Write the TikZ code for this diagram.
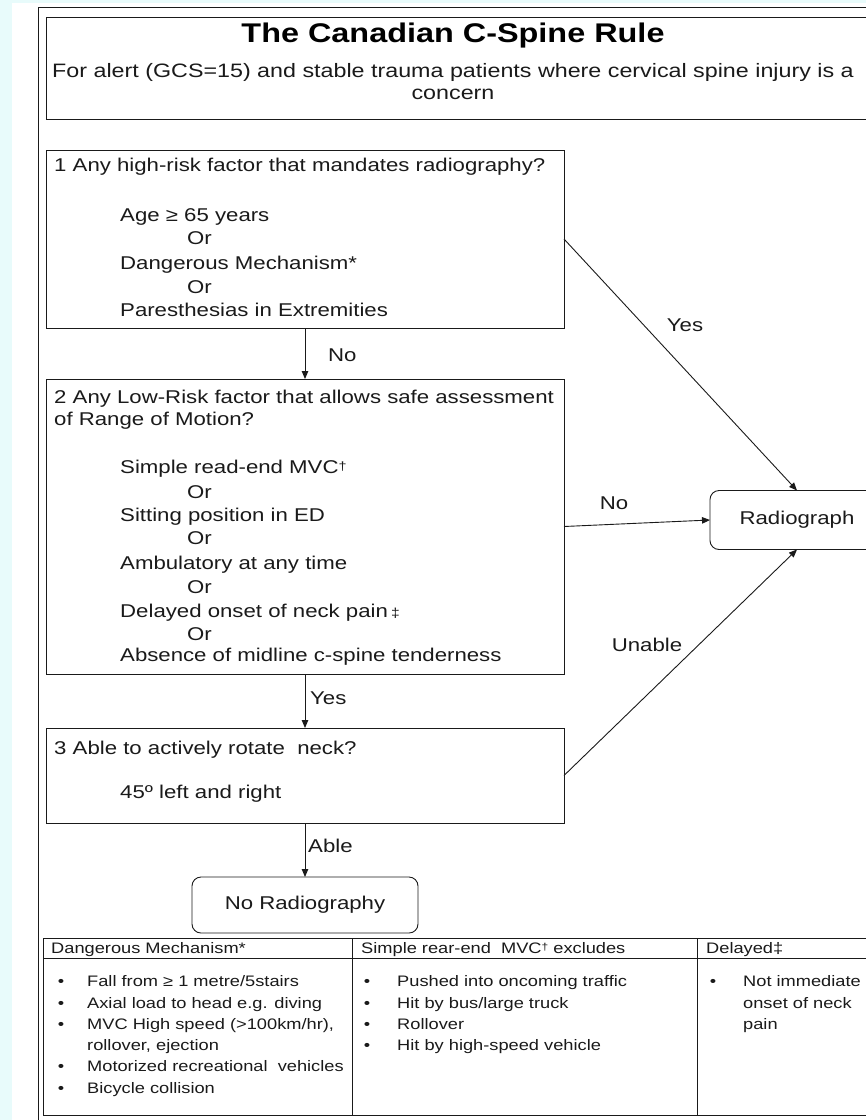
\documentclass[tikz,border=0pt]{standalone}
\usepackage{fontspec}
\setmainfont{Liberation Sans}[FakeStretch=1.2]
\usetikzlibrary{arrows.meta}
\definecolor{bgcyan}{HTML}{E8FBFB}
\definecolor{ink}{HTML}{1A1A1A}
\begin{document}
\begin{tikzpicture}[x=1pt,y=-1pt,
  frame/.style={draw=ink, line width=1pt},
  box/.style={draw=ink, line width=0.9pt, anchor=north west, inner sep=0pt, outer sep=0pt},
  rbox/.style={draw=ink, line width=0.9pt, rounded corners=9pt, inner sep=0pt, outer sep=0pt, font=\fontsize{18.5}{22}\selectfont, text=ink},
  txt/.style={anchor=base west, inner sep=0pt, font=\fontsize{18.5}{22}\selectfont, text=ink},
  lbl/.style={anchor=center, inner sep=0pt, font=\fontsize{18.5}{22}\selectfont, text=ink},
  ttxt/.style={anchor=base west, inner sep=0pt, font=\fontsize{15.2}{20}\selectfont, text=ink},
  bul/.style={anchor=base, inner sep=0pt, font=\fontsize{15.2}{20}\selectfont, text=ink},
  arr/.style={draw=ink, line width=0.9pt, -{Triangle[length=8pt,width=6.5pt]}},
]
\useasboundingbox (0,0) rectangle (866,1120);
\fill[bgcyan] (0,0) rectangle (866,1120);
\fill[white] (12,3) rectangle (866,1120);
% outer frame and title box
\draw[frame] (38,7) rectangle (900,1130);
\draw[frame] (46,17) rectangle (900,119);
\node[anchor=base, inner sep=0pt, font=\bfseries\fontsize{27}{30}\selectfont, text=black] (title) at (453,42) {The Canadian C-Spine Rule};
\node[anchor=base, inner sep=0pt, font=\fontsize{19.4}{22}\selectfont, text=ink] (sub1) at (453,77) {For alert (GCS=15) and stable trauma patients where cervical spine injury is a};
\node[anchor=base, inner sep=0pt, font=\fontsize{19.4}{22}\selectfont, text=ink] (sub2) at (453,99) {concern};

% box 1
\node[box, minimum width=518pt, minimum height=178pt] (b1) at (46,150) {};
\node[txt] (t1a) at (54,171) {1 Any high-risk factor that mandates radiography?};
\node[txt] (t1b) at (120,221) {Age ≥ 65 years};
\node[txt] (t1c) at (187,244) {Or};
\node[txt] (t1d) at (120,269) {Dangerous Mechanism*};
\node[txt] (t1e) at (187,293) {Or};
\node[txt] (t1f) at (120,316) {Paresthesias in Extremities};

% box 2
\node[box, minimum width=518pt, minimum height=295pt] (b2) at (46,379) {};
\node[txt] (t2a) at (54,403) {2 Any Low-Risk factor that allows safe assessment};
\node[txt] (t2b) at (54,425) {of Range of Motion?};
\node[txt] (t2c) at (120,473) {Simple read-end MVC\raisebox{3pt}{\fontsize{12}{12}\selectfont †}};
\node[txt] (t2d) at (187,498) {Or};
\node[txt] (t2e) at (120,521) {Sitting position in ED};
\node[txt] (t2f) at (187,544) {Or};
\node[txt] (t2g) at (120,569) {Ambulatory at any time};
\node[txt] (t2h) at (187,593) {Or};
\node[txt] (t2i) at (120,617) {Delayed onset of neck pain\,{\fontsize{13}{13}\selectfont ‡}};
\node[txt] (t2j) at (187,640) {Or};
\node[txt] (t2k) at (120,661) {Absence of midline c-spine tenderness};

% box 3
\node[box, minimum width=518pt, minimum height=95pt] (b3) at (46,728) {};
\node[txt] (t3a) at (54,754) {3 Able to actively rotate\ \ neck?};
\node[txt] (t3b) at (120,798) {45º left and right};

% outcome boxes
\node[rbox, minimum width=226pt, minimum height=56pt] (nr) at (305,905) {No Radiography\hspace{12pt}};
\node[rbox, minimum width=174pt, minimum height=59pt] (rad) at (797,520) {Radiograph};

% connectors
\draw[arr] (b1.south) -- (b2.north);
\node[txt] (lno) at (328,361) {No};
\draw[arr] (b2.south) -- (b3.north);
\node[txt] (lyes) at (310,704) {Yes};
\draw[arr] (b3.south) -- (nr.north);
\node[txt] (lable) at (308,852) {Able};
\draw[arr] (b1.east) -- (rad.north);
\node[lbl] (lyes2) at (685,325) {Yes};
\draw[arr] (b2.east) -- (rad.west);
\node[lbl] (lno2) at (614,503) {No};
\draw[arr] (b3.east) -- (rad.south);
\node[lbl] (lun) at (647,645) {Unable};

% table
\draw[frame, line width=0.8pt] (43,938) rectangle (900,1115);
\draw[draw=ink, line width=0.8pt] (43,958) -- (900,958);
\draw[draw=ink, line width=0.8pt] (352,938) -- (352,1115);
\draw[draw=ink, line width=0.8pt] (697,938) -- (697,1115);
\node[ttxt] (h1) at (51,953) {Dangerous Mechanism*};
\node[ttxt] (h2) at (361,953) {Simple rear-end\ \ MVC\raisebox{3pt}{\fontsize{10}{10}\selectfont †} excludes};
\node[ttxt] (h3) at (706,953) {Delayed‡};

\node[bul] (b11) at (61,986) {•};
\node[ttxt] (c11) at (87,986) {Fall from ≥ 1 metre/5stairs};
\node[bul] (b12) at (61,1008) {•};
\node[ttxt] (c12) at (87,1008) {Axial load to head e.g. diving};
\node[bul] (b13) at (61,1029) {•};
\node[ttxt] (c13) at (87,1029) {MVC High speed (>100km/hr),};
\node[ttxt] (c13b) at (87,1050) {rollover, ejection};
\node[bul] (b14) at (61,1071) {•};
\node[ttxt] (c14) at (87,1071) {Motorized recreational\ \ vehicles};
\node[bul] (b15) at (61,1093) {•};
\node[ttxt] (c15) at (87,1093) {Bicycle collision};

\node[bul] (b21) at (367,986) {•};
\node[ttxt] (c21) at (397,986) {Pushed into oncoming traffic};
\node[bul] (b22) at (367,1008) {•};
\node[ttxt] (c22) at (397,1008) {Hit by bus/large truck};
\node[bul] (b23) at (367,1029) {•};
\node[ttxt] (c23) at (397,1029) {Rollover};
\node[bul] (b24) at (367,1050) {•};
\node[ttxt] (c24) at (397,1050) {Hit by high-speed vehicle};

\node[bul] (b31) at (713,986) {•};
\node[ttxt] (c31) at (743,986) {Not immediate};
\node[ttxt] (c31b) at (743,1008) {onset of neck};
\node[ttxt] (c31c) at (743,1029) {pain};
\end{tikzpicture}
\end{document}
